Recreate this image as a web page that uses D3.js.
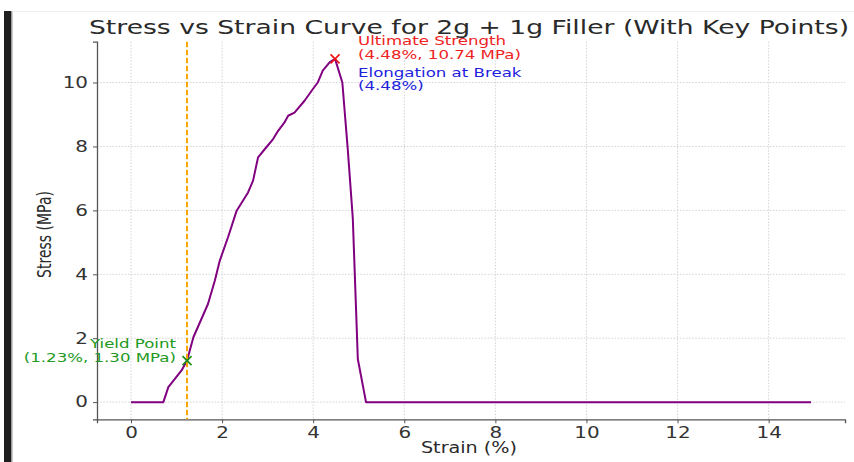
<!DOCTYPE html>
<html>
<head>
<meta charset="utf-8">
<script src="https://cdn.jsdelivr.net/npm/d3@7"></script>
<style>
  html, body { margin: 0; padding: 0; background: #fff; }
  svg { display: block; font-family: "DejaVu Sans", sans-serif; }
</style>
</head>
<body>
<svg id="chart" width="854" height="462"></svg>
<script>
// Tensile test: strain (%) vs stress (MPa)
const strain = [0, 0.71, 0.82, 1.11, 1.23, 1.37, 1.69, 1.84, 1.95, 2.13, 2.32, 2.57, 2.68, 2.79, 2.94,
  3.12, 3.23, 3.37, 3.45, 3.59, 3.81, 3.99, 4.10, 4.21, 4.36, 4.48, 4.64, 4.76, 4.87, 4.98, 5.16, 14.93];
const stress = [0, 0, 0.47, 0.99, 1.30, 2.03, 3.07, 3.80, 4.43, 5.16, 5.99, 6.56, 6.93, 7.66, 7.92,
  8.23, 8.49, 8.75, 8.96, 9.06, 9.43, 9.79, 10.00, 10.37, 10.63, 10.74, 10.00, 7.90, 5.75, 1.35, 0, 0];

const xTicks = [0, 2, 4, 6, 8, 10, 12, 14];
const yTicks = [0, 2, 4, 6, 8, 10];

// Key points
const yieldPoint = { strain: 1.23, stress: 1.30 };
const ultimate = { strain: 4.48, stress: 10.74 };
const breakStrain = 4.48;

const titleText = "Stress vs Strain Curve for 2g + 1g Filler (With Key Points)";
const xLabel = "Strain (%)";
const yLabel = "Stress (MPa)";

// Glyphs are drawn wide: horizontal stretch applied to every text
const SX = 1.33;

const svg = d3.select("#chart");

// Frame strip along the left edge of the picture
svg.append("rect").attr("x", 4).attr("y", 11).attr("width", 7).attr("height", 451).attr("fill", "#1e1e1e");
svg.append("rect").attr("x", 11).attr("y", 11).attr("width", 1.5).attr("height", 451).attr("fill", "#9a9a9a");
svg.append("line").attr("x1", 12).attr("x2", 854).attr("y1", 11.5).attr("y2", 11.5)
  .attr("stroke", "#eeeeee").attr("stroke-width", 1);

const plot = { left: 97, right: 845, top: 41.7, bottom: 419.3 };

// 5% padding around the data extent on both axes
const xMin = d3.min(strain), xMax = d3.max(strain);
const yMin = d3.min(stress), yMax = d3.max(stress);
const xPad = (xMax - xMin) * 0.05, yPad = (yMax - yMin) * 0.05;

const x = d3.scaleLinear().domain([xMin - xPad, xMax + xPad]).range([plot.left, plot.right]);
const y = d3.scaleLinear().domain([yMin - yPad, yMax + yPad]).range([plot.bottom, plot.top]);

// Grid
const grid = svg.append("g").attr("stroke", "#c8c8c8").attr("stroke-width", 0.8)
  .attr("stroke-dasharray", "1.5,1.6");
grid.selectAll("line.gx").data(xTicks).join("line")
  .attr("x1", d => x(d)).attr("x2", d => x(d)).attr("y1", plot.top).attr("y2", plot.bottom);
grid.selectAll("line.gy").data(yTicks).join("line")
  .attr("x1", plot.left).attr("x2", plot.right).attr("y1", d => y(d)).attr("y2", d => y(d));

// Axes
const xAxis = svg.append("g").attr("transform", `translate(0,${plot.bottom})`)
  .call(d3.axisBottom(x).tickValues(xTicks).tickSizeOuter(0).tickSize(4).tickPadding(4));
const yAxis = svg.append("g").attr("transform", `translate(${plot.left},0)`)
  .call(d3.axisLeft(y).tickValues(yTicks).tickSizeOuter(0).tickSize(4).tickPadding(5));
[xAxis, yAxis].forEach(a => {
  a.select(".domain").attr("stroke", "#555").attr("stroke-width", 1.3);
  a.selectAll(".tick line").attr("stroke", "#555").attr("stroke-width", 1);
  a.selectAll(".tick text").attr("fill", "#333").attr("font-size", 15)
    .attr("font-family", "DejaVu Sans, sans-serif");
});
xAxis.selectAll(".tick text").attr("transform", `scale(${SX},1)`);
yAxis.selectAll(".tick text").attr("x", -9 / SX).attr("transform", `scale(${SX},1)`);

// Stress–strain curve
const line = d3.line().x((d, i) => x(strain[i])).y((d, i) => y(stress[i]));
svg.append("path").datum(stress).attr("d", line)
  .attr("fill", "none").attr("stroke", "#800080").attr("stroke-width", 2).attr("stroke-linejoin", "round");

// Yield strain reference line
svg.append("line").attr("x1", x(yieldPoint.strain)).attr("x2", x(yieldPoint.strain))
  .attr("y1", plot.top).attr("y2", plot.bottom)
  .attr("stroke", "#ffa500").attr("stroke-width", 2).attr("stroke-dasharray", "5.5,2.5");

// Cross markers
function cross(cx, cy, color) {
  const s = 4.5;
  svg.append("path").attr("d", `M${cx - s},${cy - s}L${cx + s},${cy + s}M${cx - s},${cy + s}L${cx + s},${cy - s}`)
    .attr("stroke", color).attr("stroke-width", 1.6).attr("fill", "none");
}
cross(x(yieldPoint.strain), y(yieldPoint.stress), "#1a8a1a");
cross(x(ultimate.strain), y(ultimate.stress), "#ee1111");

// Text helper: places a horizontally stretched label at (tx, ty)
function label(parent, tx, ty, str, opts = {}) {
  return parent.append("text")
    .attr("transform", `translate(${tx},${ty}) scale(${opts.sx || SX},1)`)
    .attr("text-anchor", opts.anchor || "start")
    .attr("font-size", opts.size || 12.5)
    .attr("fill", opts.fill || "#2a2a2a")
    .text(str);
}

// Annotations
const ann = svg.append("g").attr("font-family", "DejaVu Sans, sans-serif");
const ux = x(ultimate.strain) + 23;
const uy = y(ultimate.stress);
label(ann, ux, uy - 13.5, "Ultimate Strength", { fill: "#ee2222" });
label(ann, ux, uy - 0.3, `(${ultimate.strain.toFixed(2)}%, ${ultimate.stress.toFixed(2)} MPa)`, { fill: "#ee2222" });
label(ann, ux, uy + 18, "Elongation at Break", { fill: "#2222dd" });
label(ann, ux, uy + 31.5, `(${breakStrain.toFixed(2)}%)`, { fill: "#2222dd" });

const yx = x(yieldPoint.strain) - 11;
const yy = y(yieldPoint.stress);
label(ann, yx, yy - 13, "Yield Point", { anchor: "end", fill: "#229922" });
label(ann, yx, yy + 1, `(${yieldPoint.strain.toFixed(2)}%, ${yieldPoint.stress.toFixed(2)} MPa)`, { anchor: "end", fill: "#229922" });

// Title and axis labels
label(svg, 469, 34, titleText, { anchor: "middle", size: 19, sx: 1.4 });
label(svg, (plot.left + plot.right) / 2 - 2, 453, xLabel, { anchor: "middle", size: 15, sx: 1.28 });
svg.append("text")
  .attr("transform", `translate(51,${(plot.top + plot.bottom) / 2 + 4}) scale(${SX},1) rotate(-90)`)
  .attr("text-anchor", "middle").attr("font-size", 14).attr("fill", "#2a2a2a").text(yLabel);
</script>
</body>
</html>
